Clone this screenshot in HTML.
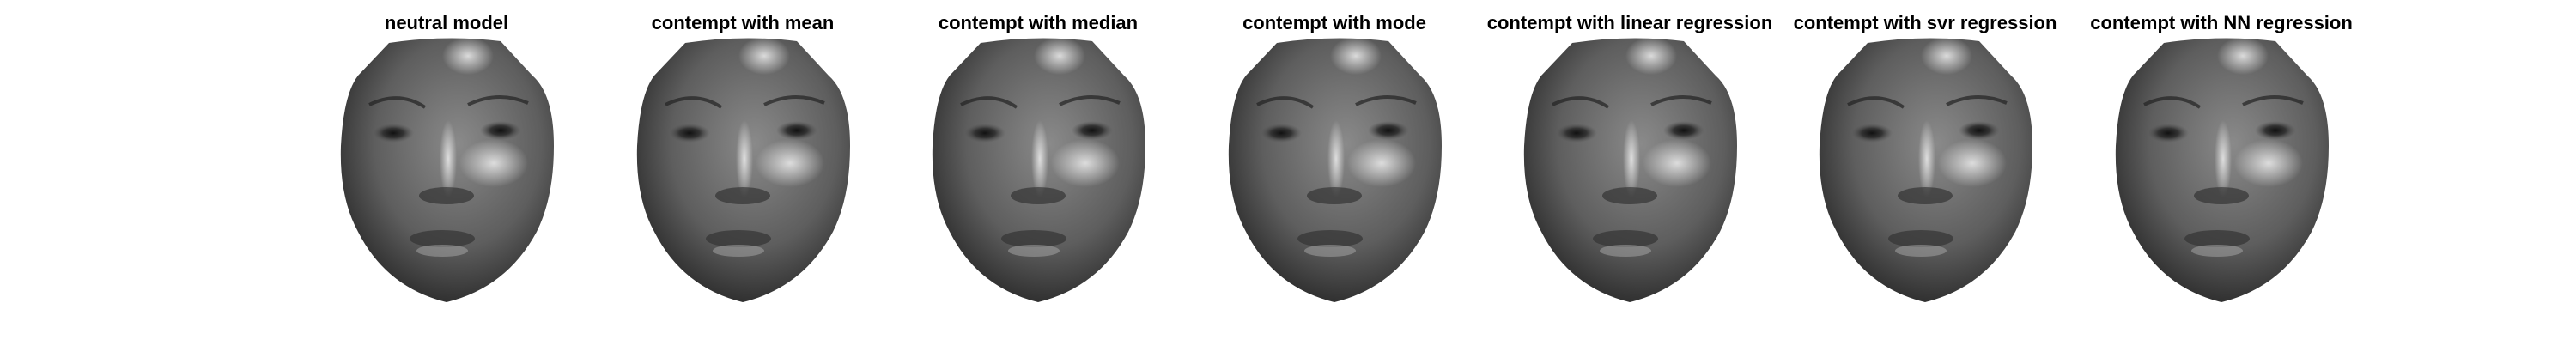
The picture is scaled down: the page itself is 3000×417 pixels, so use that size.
<!DOCTYPE html>
<html><head><meta charset="utf-8"><style>
body{margin:0;background:#fff;width:3000px;height:417px;overflow:hidden;font-family:"Liberation Sans",sans-serif}
svg{display:block}
</style></head><body>
<svg id="fig" width="3000" height="417" viewBox="0 0 3000 417">
<defs>
<radialGradient id="skin" cx="0.55" cy="0.4" r="0.65">
<stop offset="0" stop-color="#8a8a8a"/><stop offset="0.6" stop-color="#5e5e5e"/><stop offset="1" stop-color="#262626"/>
</radialGradient>
<radialGradient id="shine" cx="0.5" cy="0.5" r="0.5">
<stop offset="0" stop-color="#e8e8e8" stop-opacity="0.9"/><stop offset="1" stop-color="#e8e8e8" stop-opacity="0"/>
</radialGradient>
<radialGradient id="eye" cx="0.5" cy="0.5" r="0.5">
<stop offset="0" stop-color="#111"/><stop offset="0.5" stop-color="#333"/><stop offset="1" stop-color="#555" stop-opacity="0"/>
</radialGradient>
</defs>
</svg>
<script>
const titles=["neutral model","contempt with mean","contempt with median","contempt with mode","contempt with linear regression","contempt with svr regression","contempt with NN regression"];
const centers=[520,865,1209,1554,1898,2242,2587];
const NS="http://www.w3.org/2000/svg";
const svg=document.getElementById('fig');
function mk(tag,attrs,parent){const e=document.createElementNS(NS,tag);for(const k in attrs)e.setAttribute(k,attrs[k]);parent.appendChild(e);return e;}
titles.forEach((t,i)=>{
  const cx=centers[i];
  const g=mk('g',{transform:`translate(${cx},0)`},svg);
  
  
  const tx=mk('text',{x:0,y:34,'text-anchor':'middle','font-size':'22','font-weight':'bold',fill:'#000','font-family':'Liberation Sans, sans-serif'},g);
  tx.textContent=t;
  
  
  const face=mk('path',{d:"M -67,50 Q 0,40 63,48 L 100,88 Q 125,110 125,170 Q 125,230 105,270 Q 70,335 0,352 Q -70,335 -103,270 Q -125,230 -123,170 Q -120,110 -103,88 Z",fill:'url(#skin)'},g);
  
  
  mk('ellipse',{cx:25,cy:65,rx:30,ry:22,fill:'url(#shine)'},g);
  mk('ellipse',{cx:55,cy:190,rx:40,ry:28,fill:'url(#shine)'},g);
  mk('ellipse',{cx:2,cy:185,rx:10,ry:45,fill:'url(#shine)'},g);
  mk('path',{d:"M -90,122 Q -55,105 -25,125",stroke:'#222','stroke-width':4,fill:'none',opacity:0.7},g);
  mk('path',{d:"M 25,122 Q 60,105 95,120",stroke:'#222','stroke-width':4,fill:'none',opacity:0.7},g);
  mk('ellipse',{cx:-62,cy:155,rx:24,ry:11,fill:'url(#eye)'},g);
  mk('ellipse',{cx:63,cy:152,rx:24,ry:11,fill:'url(#eye)'},g);
  mk('ellipse',{cx:0,cy:228,rx:32,ry:10,fill:'#2a2a2a',opacity:0.6},g);
  mk('ellipse',{cx:-5,cy:278,rx:38,ry:10,fill:'#333',opacity:0.7},g);
  mk('ellipse',{cx:-5,cy:292,rx:30,ry:7,fill:'#aaa',opacity:0.5},g);
});
</script>
</body></html>
